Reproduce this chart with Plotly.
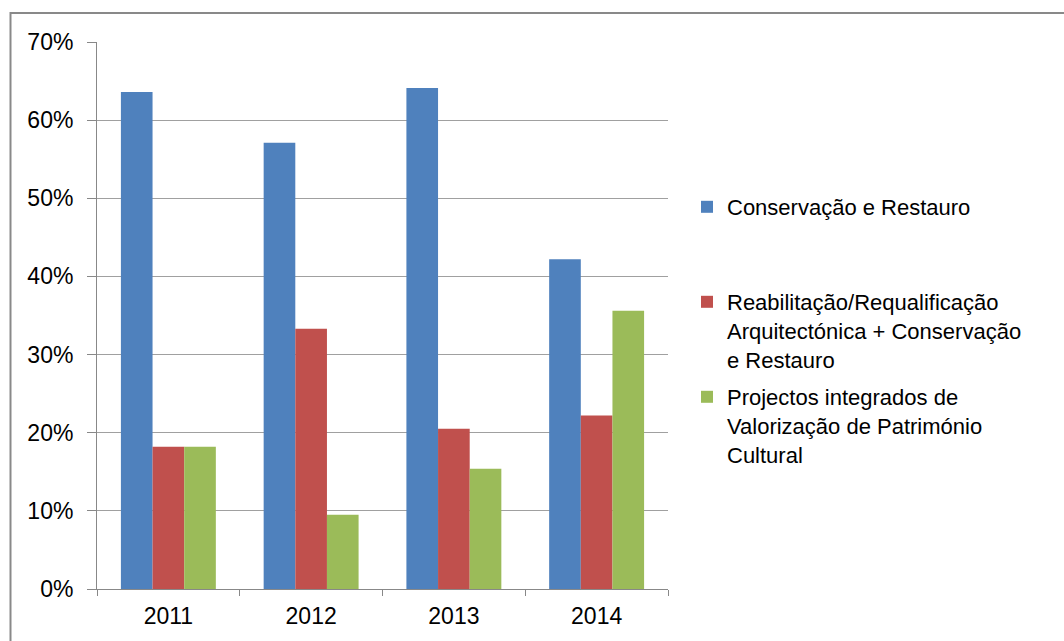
import plotly.graph_objects as go

# Share of approved projects by intervention type, per year (%)
years = ["2011", "2012", "2013", "2014"]
conservacao = [63.6, 57.1, 64.1, 42.2]
reabilitacao = [18.2, 33.3, 20.5, 22.2]
projectos = [18.2, 9.5, 15.4, 35.6]

series_names = [
    "Conservação e Restauro",
    "Reabilitação/Requalificação<br>Arquitectónica + Conservação<br>e Restauro",
    "Projectos integrados de<br>Valorização de Património<br>Cultural",
]
y_ticks = [0, 10, 20, 30, 40, 50, 60, 70]
y_tick_text = [f"{v}%" for v in y_ticks]

colors = ["#4F81BD", "#C0504D", "#9BBB59"]
legend_ids = ["legend", "legend2", "legend3"]

W, H = 1064, 641
L, R, T, B = 97, 668, 41.5, 589

fig = go.Figure()
for vals, name, col, lg in zip([conservacao, reabilitacao, projectos], series_names, colors, legend_ids):
    fig.add_trace(go.Bar(
        x=years, y=vals, name=name, legend=lg,
        marker=dict(color=col, line=dict(width=0)),
    ))

font = dict(family="Liberation Sans, Arial, sans-serif", size=22, color="#000000")


def leg(ytop):
    return dict(
        xref="container", yref="container",
        x=(727 - 40) / W, y=1 - ytop / H,
        xanchor="left", yanchor="top",
        font=font, valign="top", bgcolor="rgba(0,0,0,0)",
        borderwidth=0, itemclick=False, itemdoubleclick=False,
    )


# Outer frame of the chart area
pw, ph = R - L, B - T
fig.add_shape(
    type="rect", xref="paper", yref="paper",
    x0=(10.5 - L) / pw, x1=(1200 - L) / pw,
    y0=-(800 - B) / ph, y1=1 + (T - 12.5) / ph,
    line=dict(color="#898989", width=2), fillcolor="rgba(0,0,0,0)", layer="below",
)

fig.update_layout(
    width=W, height=H,
    margin=dict(l=L, r=W - R, t=T, b=H - B, pad=0),
    paper_bgcolor="white", plot_bgcolor="white",
    barmode="group", bargap=0.335, bargroupgap=0,
    font=font,
    showlegend=True,
    legend=leg(186),
    legend2=leg(281),
    legend3=leg(376),
    xaxis=dict(
        type="category", tickson="boundaries", ticks="outside", ticklen=6,
        tickcolor="#888888", showline=True, linecolor="#888888", linewidth=1,
        showgrid=False, tickfont=dict(size=23), ticklabelstandoff=6,
    ),
    yaxis=dict(
        range=[0, 70], tickmode="array", tickvals=y_ticks, ticktext=y_tick_text,
        ticks="outside", ticklen=9, tickcolor="#888888",
        showline=True, linecolor="#888888", linewidth=1,
        showgrid=True, gridcolor="#A0A0A0", gridwidth=1,
        tickfont=dict(size=23), ticklabelstandoff=9, zeroline=False,
    ),
)

fig.write_html("out.html")
